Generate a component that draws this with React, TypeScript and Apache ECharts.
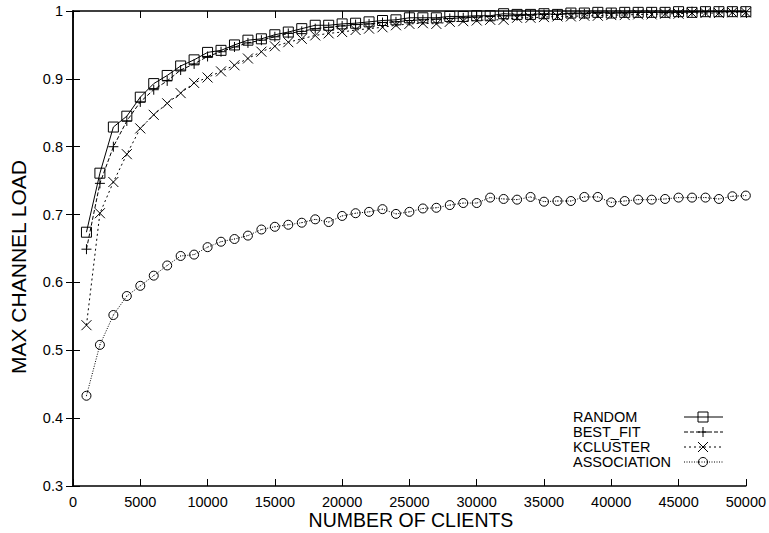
import React, { useEffect, useRef } from "react";
import * as echarts from "echarts";

const clients: number[] = [
  1000, 2000, 3000, 4000, 5000, 6000, 7000, 8000, 9000, 10000,
  11000, 12000, 13000, 14000, 15000, 16000, 17000, 18000, 19000, 20000,
  21000, 22000, 23000, 24000, 25000, 26000, 27000, 28000, 29000, 30000,
  31000, 32000, 33000, 34000, 35000, 36000, 37000, 38000, 39000, 40000,
  41000, 42000, 43000, 44000, 45000, 46000, 47000, 48000, 49000, 50000,
];

const randomLoad: number[] = [
  0.674, 0.761, 0.829, 0.845, 0.873, 0.893, 0.905, 0.919, 0.928, 0.939,
  0.942, 0.950, 0.957, 0.959, 0.965, 0.969, 0.974, 0.979, 0.979, 0.981,
  0.982, 0.984, 0.986, 0.987, 0.990, 0.990, 0.990, 0.992, 0.992, 0.993,
  0.993, 0.996, 0.995, 0.995, 0.996, 0.995, 0.997, 0.997, 0.998, 0.997,
  0.998, 0.998, 0.998, 0.998, 0.999, 0.998, 0.999, 0.999, 0.999, 0.999,
];

const bestFitLoad: number[] = [
  0.649, 0.746, 0.800, 0.838, 0.866, 0.884, 0.897, 0.913, 0.922, 0.933,
  0.940, 0.947, 0.953, 0.957, 0.962, 0.967, 0.970, 0.974, 0.976, 0.978,
  0.980, 0.981, 0.983, 0.984, 0.986, 0.987, 0.988, 0.989, 0.990, 0.991,
  0.992, 0.993, 0.993, 0.994, 0.995, 0.995, 0.996, 0.996, 0.997, 0.997,
  0.997, 0.998, 0.998, 0.998, 0.998, 0.999, 0.999, 0.999, 0.999, 0.999,
];

const kclusterLoad: number[] = [
  0.537, 0.702, 0.748, 0.789, 0.827, 0.847, 0.864, 0.879, 0.894, 0.902,
  0.911, 0.920, 0.930, 0.940, 0.948, 0.954, 0.959, 0.964, 0.967, 0.969,
  0.972, 0.974, 0.976, 0.979, 0.981, 0.982, 0.981, 0.984, 0.985, 0.986,
  0.987, 0.987, 0.990, 0.990, 0.991, 0.992, 0.992, 0.993, 0.993, 0.994,
  0.994, 0.995, 0.995, 0.996, 0.996, 0.997, 0.997, 0.997, 0.998, 0.998,
];

const associationLoad: number[] = [
  0.433, 0.508, 0.552, 0.580, 0.595, 0.610, 0.625, 0.639, 0.641, 0.652,
  0.660, 0.664, 0.669, 0.678, 0.682, 0.685, 0.688, 0.693, 0.689, 0.698,
  0.702, 0.704, 0.708, 0.701, 0.704, 0.709, 0.710, 0.714, 0.717, 0.717,
  0.725, 0.723, 0.722, 0.726, 0.719, 0.720, 0.720, 0.726, 0.726, 0.718,
  0.720, 0.722, 0.722, 0.723, 0.725, 0.725, 0.725, 0.723, 0.727, 0.728,
];

const seriesNames: string[] = ["RANDOM", "BEST_FIT", "KCLUSTER", "ASSOCIATION"];

const FONT = "'Liberation Sans', Arial, Helvetica, sans-serif";

const PLUS = "path://M0,5L10,5M5,0L5,10";
const CROSS = "path://M0,0L10,10M10,0L0,10";
const DOTCIRCLE = "path://M0,5A5,5,0,1,1,10,5A5,5,0,1,1,0,5ZM5,4.6L5,5.4";

export default function App() {
  const ref = useRef<HTMLDivElement>(null);

  useEffect(() => {
    if (!ref.current) return;
    const chart = echarts.init(ref.current, null, { renderer: "svg" });

    const values = [randomLoad, bestFitLoad, kclusterLoad, associationLoad];
    const symbols: any[] = ["rect", PLUS, CROSS, DOTCIRCLE];
    const sizes = [10, 10, 10, 9];
    const dashes: any[] = ["solid", [4, 2], [2, 3], [1, 1.5]];

    const series = seriesNames.map((name, i) => ({
      name,
      type: "line",
      xAxisIndex: 0,
      yAxisIndex: 0,
      data: clients.map((c, j) => [c, values[i][j]]),
      symbol: symbols[i],
      symbolSize: sizes[i],
      showAllSymbol: true,
      lineStyle: { color: "#000", width: 1, type: dashes[i] },
      itemStyle: { color: "transparent", borderColor: "#000", borderWidth: 1 },
      emphasis: { disabled: true },
      z: 10 - i,
    }));

    const axisLine = { show: true, lineStyle: { color: "#000", width: 1.5 } };
    const tick = { show: true, inside: true, length: 7, lineStyle: { color: "#000", width: 1 } };
    const label = { color: "#000", fontSize: 14.5, fontFamily: FONT };

    const legendRows: any[] = [];
    const legendX = 573;
    const lineX1 = 684;
    const lineX2 = 723;
    const mx = 703;
    seriesNames.forEach((name, i) => {
      const y = 417 + 15 * i;
      legendRows.push({
        type: "text",
        x: legendX,
        y,
        style: {
          text: name,
          fill: "#000",
          font: `14.5px ${FONT}`,
          textAlign: "left",
          verticalAlign: "middle",
        },
      });
      legendRows.push({
        type: "line",
        shape: { x1: lineX1, y1: y, x2: lineX2, y2: y },
        style: {
          stroke: "#000",
          lineWidth: 1,
          lineDash: dashes[i] === "solid" ? null : dashes[i],
        },
      });
      if (i === 0) {
        legendRows.push({
          type: "rect",
          shape: { x: mx - 5, y: y - 5, width: 10, height: 10 },
          style: { fill: "none", stroke: "#000", lineWidth: 1 },
        });
      } else if (i === 1) {
        legendRows.push({ type: "line", shape: { x1: mx - 5, y1: y, x2: mx + 5, y2: y }, style: { stroke: "#000", lineWidth: 1 } });
        legendRows.push({ type: "line", shape: { x1: mx, y1: y - 5, x2: mx, y2: y + 5 }, style: { stroke: "#000", lineWidth: 1 } });
      } else if (i === 2) {
        legendRows.push({ type: "line", shape: { x1: mx - 5, y1: y - 5, x2: mx + 5, y2: y + 5 }, style: { stroke: "#000", lineWidth: 1 } });
        legendRows.push({ type: "line", shape: { x1: mx + 5, y1: y - 5, x2: mx - 5, y2: y + 5 }, style: { stroke: "#000", lineWidth: 1 } });
      } else {
        legendRows.push({
          type: "circle",
          shape: { cx: mx, cy: y, r: 4.5 },
          style: { fill: "none", stroke: "#000", lineWidth: 1 },
        });
      }
    });

    chart.setOption({
      animation: false,
      backgroundColor: "#fff",
      grid: { left: 73, right: 21, top: 11, bottom: 47, containLabel: false },
      xAxis: [
        {
          type: "value",
          position: "bottom",
          min: 0,
          max: 50000,
          interval: 5000,
          axisLine,
          axisTick: tick,
          axisLabel: { ...label, margin: 8, formatter: (v: number) => String(v) },
          splitLine: { show: false },
        },
        {
          type: "value",
          position: "top",
          min: 0,
          max: 50000,
          interval: 5000,
          axisLine,
          axisTick: tick,
          axisLabel: { show: false },
          splitLine: { show: false },
        },
      ],
      yAxis: [
        {
          type: "value",
          position: "left",
          min: 0.3,
          max: 1,
          interval: 0.1,
          axisLine,
          axisTick: tick,
          axisLabel: {
            ...label,
            margin: 10,
            formatter: (v: number) => (Math.abs(v - 1) < 1e-9 ? "1" : v.toFixed(1)),
          },
          splitLine: { show: false },
        },
        {
          type: "value",
          position: "right",
          min: 0.3,
          max: 1,
          interval: 0.1,
          axisLine,
          axisTick: tick,
          axisLabel: { show: false },
          splitLine: { show: false },
        },
      ],
      series,
      graphic: [
        {
          type: "text",
          x: 411,
          y: 520,
          style: {
            text: "NUMBER OF CLIENTS",
            fill: "#000",
            font: `19.5px ${FONT}`,
            textAlign: "center",
            verticalAlign: "middle",
          },
        },
        {
          type: "text",
          x: 18.5,
          y: 267,
          rotation: Math.PI / 2,
          style: {
            text: "MAX CHANNEL LOAD",
            fill: "#000",
            font: `21px ${FONT}`,
            textAlign: "center",
            verticalAlign: "middle",
          },
        },
        ...legendRows,
      ],
    });

    return () => chart.dispose();
  }, []);

  return (
    <div
      ref={ref}
      style={{ position: "absolute", left: 0, top: 0, width: 769, height: 533, background: "#fff" }}
    />
  );
}
